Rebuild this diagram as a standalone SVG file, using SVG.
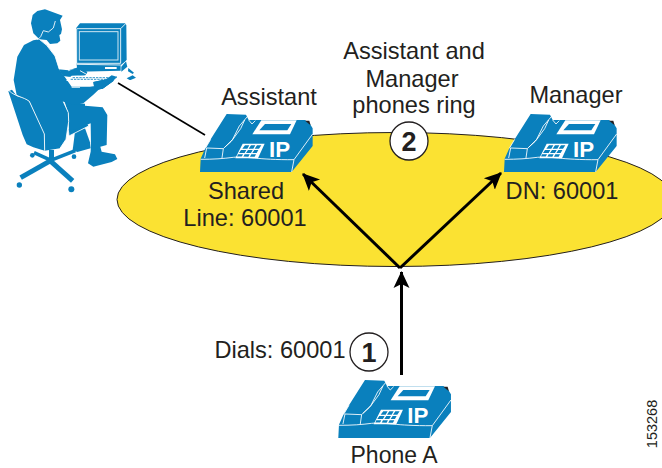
<svg xmlns="http://www.w3.org/2000/svg" width="662" height="468" viewBox="0 0 662 468">
<style>
text{font-family:"Liberation Sans",Arial,sans-serif;font-size:23.6px;fill:#231f20;text-anchor:middle}
.num{font-weight:bold;font-size:27px}
.circ{fill:#fff;stroke:#231f20;stroke-width:1.3}
.conn{fill:none;stroke:#000;stroke-width:3}
.thin{fill:none;stroke:#000;stroke-width:1.6}
.b{fill:#0a80bd}
.w{fill:none;stroke:#fff;stroke-width:2.6;stroke-linejoin:round}
.wf{fill:#fff}
.leg{fill:none;stroke:#0a80bd;stroke-linecap:butt}
</style>
<defs>
<marker id="ah" markerUnits="userSpaceOnUse" markerWidth="20" markerHeight="20" refX="16" refY="9" orient="auto"><path d="M0 1 L17 9 L0 17 L4 9Z" fill="#000"/></marker>
<g id="phone" transform="translate(190,100) scale(.3333)">
<path class="b" d="M46 145L62 118L110 42L168 44L176 60L345 60L360 72L368 85V138L305 216H30L32 176Z"/>
<path class="w" d="M172 50L148 78L128 118L100 146L50 144L44 174M100 146L96 174M62 118L46 145"/>
<path class="w" d="M164 60L152 86L124 124L104 142"/>
<path class="w" d="M32 178C70 178 100 176 130 172C170 168 200 180 312 179L368 102M312 179L305 216"/>
<path class="w" d="M176 60L186 72L196 62"/>
<path class="wf" d="M214 61H320L300 103H187Z"/>
<path class="b" d="M225 72H304L292 91H208Z"/>
<path fill="#231f20" d="M345 62L358 62L362 76Z"/>
<path class="wf" fill-rule="evenodd" d="M158 131H224L204 175H136ZM165 136L157 146H172L178 136ZM183 136L176 146H190L196 136ZM201 136L194 146H207L214 136ZM153 150L147 159H164L169 150ZM174 150L168 159H183L188 150ZM193 150L187 159H200L205 150ZM144 163L141 170H155L159 163ZM164 163L160 170H175L179 163ZM184 163L180 170H194L198 163Z"/>
<text x="268.500" y="170" style="font-weight:bold;font-size:67px;fill:#fff">IP</text>
</g>
</defs>
<ellipse cx="395" cy="199.500" rx="278" ry="67" fill="#fbe232" stroke="#231f20" stroke-width="1"/>
<g id="connectors">
<line class="thin" x1="118" y1="83" x2="205" y2="135"/>
<line class="conn" x1="400" y1="268" x2="303" y2="174" marker-end="url(#ah)"/>
<line class="conn" x1="400" y1="268" x2="501" y2="173" marker-end="url(#ah)"/>
<line class="conn" x1="401.500" y1="375" x2="401.500" y2="272" marker-end="url(#ah)"/>
</g>
<g id="user" transform="scale(.3333)">
<!-- chair base -->
<path class="b" d="M147 450H162V480H147Z"/>
<g class="leg">
<path stroke-width="15" d="M152 482L62 533"/>
<path stroke-width="15" d="M150 482L218 543"/>
<path stroke-width="11" d="M155 482L102 458"/>
<path stroke-width="11" d="M150 482L226 452"/>
</g>
<circle class="b" cx="58" cy="555" r="8"/><circle class="b" cx="214" cy="568" r="9"/>
<circle class="b" cx="97" cy="466" r="7"/><circle class="b" cx="222" cy="470" r="7"/>
<!-- chair back -->
<path class="b" d="M25 274L36 269L50 288C62 292 78 295 88 305L133 400L134 452L100 442L80 433L68 405Z"/>
<!-- far leg -->
<path class="b" d="M225 395L255 385L270 427L272 445L232 456L218 450Z"/>
<!-- seat arm -->
<path class="b" stroke="#fff" stroke-width="2.500" d="M205 388L262 368L266 378L207 408Z"/>
<!-- near leg -->
<path class="b" d="M193 303L220 310L255 311V317L308 322L322 345L320 435L301 440L305 455L345 463L352 477L335 486L280 500L264 490L272 455L273 435L272 370L207 395L205 340Z"/>
<!-- torso + arm -->
<path class="b" d="M100 121L72 135L52 170L41 240L50 285L88 304L133 402L134 452L180 445L198 418L206 365L205 338L190 305L225 315L250 310L280 284L295 270L310 265L340 243L351 232L345 226L326 226L316 238L290 257L270 260L215 260L195 232L178 210L165 168L140 135L118 118Z"/>
<path class="b" d="M175 208L205 211L235 202L262 216L256 226L240 232L205 230L190 228Z"/>
<path class="b" d="M280 246L318 238L335 228L350 230L340 243L308 266L292 268L282 258Z"/>
<!-- head -->
<path class="b" d="M118 118L100 100L93 70L98 45L112 33L135 28L188 47L180 60L186 88L183 102L178 105L181 122L172 130L150 132L140 120Z"/>
<path class="w" d="M166 63L160 84L145 96L130 92L122 110L112 120M118 118L140 136L165 168L178 208" stroke-width="2"/>
<path class="w" d="M27 272C45 290 70 290 88 304L133 402L134 452M190 305L205 338L206 365L198 418L180 445" stroke-width="2.500"/>
<path class="w" d="M205 212C220 210 240 200 262 216M215 262L240 262" stroke-width="2"/>
<!-- monitor -->
<path class="b" d="M228 85L240 70H375L379 75L380 180L362 197V212L233 215L230 195Z"/>
<path class="w" d="M230 86H362V190H230ZM362 86L377 71M230 193L362 195M362 197L380 183" stroke-width="2"/>
<rect x="238" y="95" width="116" height="85" class="b" stroke="#cfe6f2" stroke-width="3"/>
<path class="wf" d="M315 201H350V207H315Z"/>
<path class="b" d="M364 200L378 184L382 200L364 215Z"/>
<!-- keyboard -->
<path class="wf" d="M198 243L215 227L350 222L345 242L300 238L285 243Z"/>
<path d="M218 233H340M212 238H338" fill="none" stroke="#0a80bd" stroke-width="2.500" stroke-dasharray="7 3"/>
<path class="b" d="M235 202L262 216L256 226L240 226L205 222L208 212Z"/>
<path class="w" d="M240 212L258 222" stroke-width="1.500"/>
<path class="b" d="M280 246L318 238L335 226L350 230L340 243L308 266L292 268L282 258Z"/>
<!-- mouse -->
<path class="b" d="M385 204L402 218L398 222L384 214ZM380 235L398 226L408 233L390 241Z"/>
<path class="wf" d="M380 240H396V244H380Z"/>
</g>
<g id="assistant-phone"><use href="#phone"/></g>
<g id="manager-phone"><use href="#phone" x="304" y="0"/></g>
<g id="phone-a"><use href="#phone" x="138.300" y="266"/></g>
<text x="269" y="105">Assistant</text>
<text x="414" y="59">Assistant and</text>
<text x="412" y="87">Manager</text>
<text x="414" y="113">phones ring</text>
<text x="576" y="103">Manager</text>
<g id="step-2"><circle class="circ" cx="409" cy="141" r="19"/><text class="num" x="409" y="151">2</text></g>
<text x="246" y="199">Shared</text>
<text x="245" y="226">Line: 60001</text>
<text x="562" y="199">DN: 60001</text>
<text x="280" y="358">Dials: 60001</text>
<g id="step-1"><circle class="circ" cx="369" cy="352" r="19"/><text class="num" x="369" y="362">1</text></g>
<text x="394" y="463" style="font-size:23px">Phone A</text>
<text x="0" y="0" transform="translate(657,424) rotate(-90)" style="font-size:14.500px">153268</text>
</svg>
